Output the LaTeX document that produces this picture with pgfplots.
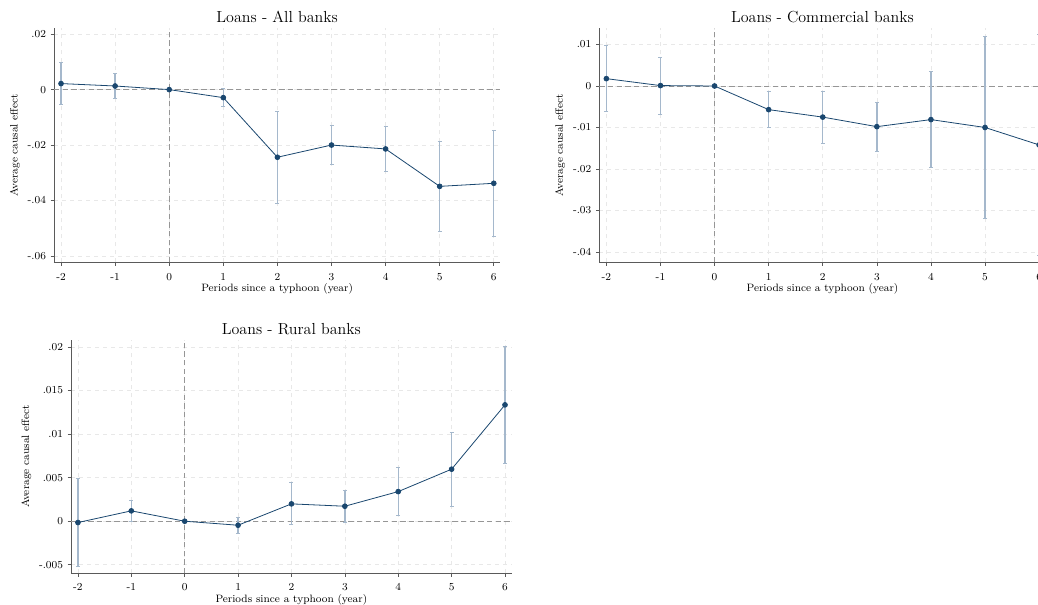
\documentclass[border=0pt]{standalone}
\usepackage{pgfplots}
\pgfplotsset{compat=1.18}
\usepackage{pgfplotstable}
\definecolor{navy}{RGB}{26,71,111}
\definecolor{cibar}{RGB}{165,184,204}
\definecolor{axisgray}{RGB}{90,90,90}
\definecolor{gridgray}{RGB}{232,232,232}
\definecolor{zerogray}{RGB}{150,150,150}

\pgfplotstableread{
x y
-2 0.00217
-1 0.0013
0 0
1 -0.0029
2 -0.0244
3 -0.0200
4 -0.0214
5 -0.0349
6 -0.0338
}\allpt
\pgfplotstableread{
x y lo hi
-2 0.00217 -0.0053 0.0099
-1 0.0013 -0.0032 0.0059
1 -0.0029 -0.0061 0.0004
2 -0.0244 -0.0410 -0.0078
3 -0.0200 -0.0268 -0.0130
4 -0.0214 -0.0295 -0.0132
5 -0.0349 -0.0510 -0.0186
6 -0.0338 -0.0529 -0.0146
}\allci
\pgfplotstableread{
x y
-2 0.00177
-1 0.0001
0 0
1 -0.0057
2 -0.0075
3 -0.0098
4 -0.0081
5 -0.0100
6 -0.0142
}\compt
\pgfplotstableread{
x y lo hi
-2 0.00177 -0.0061 0.0097
-1 0.0001 -0.0068 0.0070
1 -0.0057 -0.0101 -0.0013
2 -0.0075 -0.0138 -0.0014
3 -0.0098 -0.0157 -0.0039
4 -0.0081 -0.0197 0.0035
5 -0.0100 -0.0320 0.0120
6 -0.0142 -0.0408 0.0125
}\comci
\pgfplotstableread{
x y
-2 -0.00015
-1 0.00119
0 0
1 -0.00046
2 0.00199
3 0.00172
4 0.0034
5 0.00597
6 0.01335
}\rurpt
\pgfplotstableread{
x y lo hi
-2 -0.00015 -0.0052 0.00486
-1 0.00119 0.0000 0.0024
1 -0.00046 -0.00134 0.00042
2 0.00199 -0.00042 0.00444
3 0.00172 -0.00011 0.00356
4 0.0034 0.00069 0.00612
5 0.00597 0.00172 0.01017
6 0.01335 0.00662 0.02008
}\rurci

\pgfplotsset{
  evstyle/.style={
    scale only axis,
    anchor=south west,
    axis lines*=left,
    axis line style={axisgray, line width=0.6pt},
    tick align=outside,
    major tick length=2.5pt,
    tick style={axisgray, line width=0.5pt},
    xmin=-2.13,
    xtick={-2,...,6},
    xticklabels={-2,-1,0,1,2,3,4,5,6},
    scaled y ticks=false,
    grid=major,
    grid style={gridgray, dashed, line width=0.5pt},
    ticklabel style={font=\fontsize{8}{9}\selectfont, text=black},
    xticklabel style={anchor=base, yshift=-10.8pt},
    label style={font=\fontsize{8}{9}\selectfont},
    xlabel={Periods since a typhoon (year)},
    ylabel={Average causal effect},
    xlabel style={at={(axis description cs:0.5,0)}, anchor=base, yshift=-22pt},
    title style={font=\fontsize{12}{14}\selectfont, at={(axis description cs:0.5,1)}, anchor=base, yshift=-1.8pt},
    clip=true,
  },
  zeroln/.style={zerogray, dashed, line width=0.6pt, dash pattern=on 4pt off 2.5pt},
  ciplot/.style={draw=none, mark=none,
    error bars/.cd, y dir=both, y explicit,
    error bar style={draw=cibar, solid, line width=1pt},
    error mark options={rotate=90, draw=cibar, mark size=1.5pt, line width=0.6pt}},
  ptplot/.style={navy, line width=0.6pt, mark=*, mark size=1.8pt, mark options={solid, fill=navy}},
}

\begin{document}
\begin{tikzpicture}
% Panel 1
\begin{axis}[evstyle, at={(40.5pt,257pt)}, width=334.7pt, height=175.5pt,
  xmax=6.12, ymin=-0.0623, ymax=0.0221,
  ytick={-0.06,-0.04,-0.02,0,0.02},
  yticklabels={-.06,-.04,-.02,0,.02},
  ylabel style={at={(axis description cs:-0.0874,0.5)}, anchor=center},
  title={Loans - All banks}]
\addplot[zeroln] coordinates {(0,-0.0623) (0,0.0221)};
\addplot[zeroln] coordinates {(-2.13,0) (6.12,0)};
\addplot[ciplot] table[x=x, y=y, y error plus expr=\thisrow{hi}-\thisrow{y}, y error minus expr=\thisrow{y}-\thisrow{lo}] {\allci};
\addplot[ptplot] table[x=x, y=y] {\allpt};
\end{axis}
% Panel 2
\begin{axis}[evstyle, at={(449.5pt,257pt)}, width=334.7pt, height=175.5pt,
  xmax=6.12, ymin=-0.0425, ymax=0.0139,
  ytick={-0.04,-0.03,-0.02,-0.01,0,0.01},
  yticklabels={-.04,-.03,-.02,-.01,0,.01},
  ylabel style={at={(axis description cs:-0.088,0.5)}, anchor=center},
  title={Loans - Commercial banks}]
\addplot[zeroln] coordinates {(0,-0.0425) (0,0.0139)};
\addplot[zeroln] coordinates {(-2.13,0) (6.12,0)};
\addplot[ciplot] table[x=x, y=y, y error plus expr=\thisrow{hi}-\thisrow{y}, y error minus expr=\thisrow{y}-\thisrow{lo}] {\comci};
\addplot[ptplot] table[x=x, y=y] {\compt};
\end{axis}
% Panel 3
\begin{axis}[evstyle, at={(53.25pt,23.8pt)}, width=330.5pt, height=175pt,
  xmax=6.125, ymin=-0.00597, ymax=0.0208,
  ytick={-0.005,0,0.005,0.01,0.015,0.02},
  yticklabels={-.005,0,.005,.01,.015,.02},
  ylabel style={at={(axis description cs:-0.101,0.5)}, anchor=center},
  title={Loans - Rural banks}]
\addplot[zeroln] coordinates {(0,-0.00597) (0,0.0208)};
\addplot[zeroln] coordinates {(-2.13,0) (6.125,0)};
\addplot[ciplot] table[x=x, y=y, y error plus expr=\thisrow{hi}-\thisrow{y}, y error minus expr=\thisrow{y}-\thisrow{lo}] {\rurci};
\addplot[ptplot] table[x=x, y=y] {\rurpt};
\end{axis}
\pgfresetboundingbox
\useasboundingbox (0,0) rectangle (778.5pt,453.75pt);
\end{tikzpicture}
\end{document}
